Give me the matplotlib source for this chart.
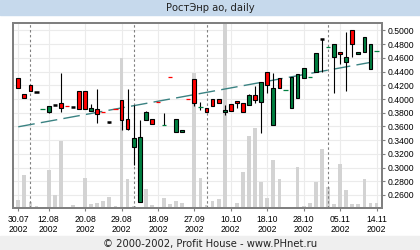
import matplotlib
matplotlib.use('Agg')
import matplotlib.pyplot as plt
import matplotlib.transforms as mtransforms
import numpy as np

# one slot per trading day (days without trades are skipped)
open_ = [0.4300, 0.4071, 0.4200, 0.4105, 0.3857, 0.3813, 0.3907, 0.3940, 0.3897, 0.3886,
         0.4120, 0.4120, 0.3828, 0.3857, 0.3805, 0.3663, 0.3857, 0.3980, 0.3703, 0.3294,
         0.2501, 0.3688, 0.3703, 0.3960, 0.3615, 0.4320, 0.3513, 0.3513, 0.3994, 0.4290,
         0.3878, 0.3863, 0.3994, 0.3994, 0.3805, 0.3921, 0.3970, 0.3936, 0.3907, 0.4057,
         0.3950, 0.4397, 0.3615, 0.4300, 0.4125, 0.3863, 0.4009, 0.4300, 0.4315, 0.4388,
         0.4873, 0.4752, 0.4606, 0.4688, 0.4542, 0.5000, 0.4650, 0.4688, 0.4431, 0.4698]
close = [0.4155, 0.4009, 0.4120, 0.4105, 0.3857, 0.3892, 0.3907, 0.3863, 0.3897, 0.3886,
         0.3848, 0.3848, 0.3863, 0.3775, 0.3805, 0.3663, 0.3857, 0.3697, 0.3557, 0.3426,
         0.3440, 0.3805, 0.3630, 0.3960, 0.3615, 0.4320, 0.3703, 0.3547, 0.3994, 0.3936,
         0.3878, 0.3805, 0.3900, 0.3936, 0.3838, 0.3819, 0.3936, 0.3805, 0.4057, 0.3984,
         0.4246, 0.4200, 0.4155, 0.4155, 0.4125, 0.4315, 0.4359, 0.4446, 0.4315, 0.4665,
         0.4873, 0.4752, 0.4796, 0.4650, 0.4606, 0.4796, 0.4688, 0.4898, 0.4796, 0.4698]
high = [0.4300, 0.4071, 0.4200, 0.4105, 0.3857, 0.3892, 0.3907, 0.4382, 0.3897, 0.3886,
        0.4120, 0.4120, 0.3926, 0.4140, 0.3805, 0.3663, 0.3857, 0.3980, 0.4140, 0.3910,
        0.3692, 0.3824, 0.3703, 0.3960, 0.3800, 0.4320, 0.3703, 0.3547, 0.3994, 0.4290,
        0.3960, 0.3863, 0.3994, 0.3994, 0.3911, 0.3921, 0.3970, 0.3936, 0.4077, 0.4188,
        0.4246, 0.4397, 0.4382, 0.4300, 0.4125, 0.4315, 0.4359, 0.4446, 0.4315, 0.4665,
        0.4873, 0.4752, 0.4796, 0.4688, 0.4980, 0.5000, 0.4688, 0.4898, 0.4796, 0.4698]
low = [0.4155, 0.4009, 0.4120, 0.4105, 0.3857, 0.3799, 0.3907, 0.3805, 0.3897, 0.3886,
       0.3848, 0.3848, 0.3828, 0.3644, 0.3805, 0.3650, 0.3857, 0.3550, 0.3547, 0.3036,
       0.2501, 0.3688, 0.3630, 0.3960, 0.3615, 0.4320, 0.3513, 0.3513, 0.3994, 0.3897,
       0.3838, 0.3805, 0.3892, 0.3936, 0.3765, 0.3819, 0.3863, 0.3805, 0.3907, 0.3945,
       0.3499, 0.4090, 0.3615, 0.4155, 0.4125, 0.3863, 0.4009, 0.4300, 0.4315, 0.4388,
       0.4397, 0.4752, 0.4090, 0.4504, 0.4120, 0.4615, 0.4650, 0.4688, 0.4431, 0.4698]
# flat days: 'k' black dash, 'r'/'g' thin coloured dash, '' normal candle
flat = ['', '', '', 'k', 'g', '', 'k', '', 'r', 'k',
        '', '', '', '', 'r', 'k', 'r', '', '', '',
        '', '', '', 'r', 'g', 'r', '', '', 'r', '',
        'g', '', '', '', '', '', '', '', '', '',
        '', '', '', '', 'g', '', '', '', 'g', '',
        'k', 'g', '', '', '', '', '', '', '', 'g']
volume = [8, 33, 6, 2, 1, 38, 13, 67, 1, 3,
          1, 30, 4, 5, 7, 11, 2, 150, 29, 2,
          1, 19, 3, 1, 10, 4.5, 7, 5.5, 1, 135,
          30, 3, 7.5, 9, 200, 1, 5, 36, 72, 80,
          26, 10, 48, 29, 1, 1, 41, 2, 5, 26,
          59, 21, 4, 44, 18, 4, 4, 29, 5, 5]
trend = [0.3595, 0.4551]  # first and last day

tick_idx = [0, 5, 11, 17, 23, 29, 35, 41, 47, 53, 59]
tick_labels = ['30.07', '12.08', '20.08', '29.08', '18.09', '27.09',
               '10.10', '18.10', '28.10', '05.11', '14.11']
month_start = [2, 19, 31, 51]

RED = '#ff0000'
GREEN = '#007f40'
GRID = '#ebebeb'
FRAME = '#808080'

fig = plt.figure(figsize=(4.2, 2.5), dpi=100)
fig.patches.append(plt.Rectangle((0, 0.94), 1, 0.06, transform=fig.transFigure,
                                 color='#c6d9ec', zorder=0))
fig.patches.append(plt.Rectangle((0, 0), 1, 0.056, transform=fig.transFigure,
                                 color='#efefef', zorder=0))
fig.text(0.5, 0.968, 'РостЭнр ао, daily', ha='center', va='center',
         fontsize=7.2, family='DejaVu Sans', color='#222222')
fig.text(0.5, 0.026, '© 2000-2002, Profit House - www.PHnet.ru', ha='center',
         va='center', fontsize=7.2, family='DejaVu Sans', color='#222222')

rect = [13.3 / 420, 1 - 208 / 250, (381.7 - 13.3) / 420, (208 - 23.3) / 250]
ax_vol = fig.add_axes(rect)
ax = ax_vol.twinx()

x = np.arange(len(close))

# volume behind everything
ax_vol.bar(x, volume, width=0.62, color='#d3d3d3', zorder=2)
ax_vol.set_ylim(0, 185)
ax_vol.set_xlim(-0.82, 59.85)
ax_vol.tick_params(left=False, labelleft=False)
ax_vol.set_xticks(tick_idx, [t + '\n2002' for t in tick_labels])
ax_vol.grid(axis='x', color=GRID, lw=0.8, zorder=0)
ax_vol.set_axisbelow(True)
for m in month_start:
    ax_vol.axvline(m, color=FRAME, ls=(0, (2.2, 2.2)), lw=0.8, zorder=3)

# price
ax.set_ylim(0.241, 0.5105)
yt = np.arange(0.26, 0.5001, 0.02)
ax.set_yticks(yt)
ax.yaxis.set_major_formatter(matplotlib.ticker.FormatStrFormatter('%.4f'))
trans = mtransforms.blended_transform_factory(ax_vol.transAxes, ax.transData)
ax_vol.hlines(yt, 0, 1, transform=trans, color=GRID, lw=0.8, zorder=0)

ax.plot([x[0], x[-1]], trend, color='#3a8282', lw=1, dashes=(12, 4.5), zorder=2)

for i in x:
    o, h, l, c = open_[i], high[i], low[i], close[i]
    if h > max(o, c) or l < min(o, c):
        ax.vlines(i, l, h, color='black', lw=0.8, zorder=3)
    if flat[i] == 'k':
        ax.hlines(c, i - 0.35, i + 0.35, color='black', lw=1.8, zorder=4)
    elif flat[i]:
        ax.hlines(c, i - 0.35, i + 0.35, color=RED if flat[i] == 'r' else GREEN,
                  lw=0.9, zorder=4)
    else:
        ax.bar(i, abs(c - o), bottom=min(o, c), width=0.62,
               color=GREEN if c > o else RED, edgecolor='black', linewidth=0.8,
               zorder=4)

for a in (ax, ax_vol):
    for s in a.spines.values():
        s.set_color(FRAME)
        s.set_linewidth(1.4)

ax.tick_params(axis='y', length=2.2, width=0.8, color=FRAME, pad=2,
               labelsize=6.2, labelcolor='black')
ax_vol.tick_params(axis='x', length=2.2, width=0.8, color=FRAME, pad=2.5,
                   labelsize=6.2, labelcolor='black')
for lab in ax.get_yticklabels() + ax_vol.get_xticklabels():
    lab.set_family('Liberation Sans')
for lab in ax_vol.get_xticklabels():
    lab.set_linespacing(1.15)

fig.savefig('out.png', dpi=100)
